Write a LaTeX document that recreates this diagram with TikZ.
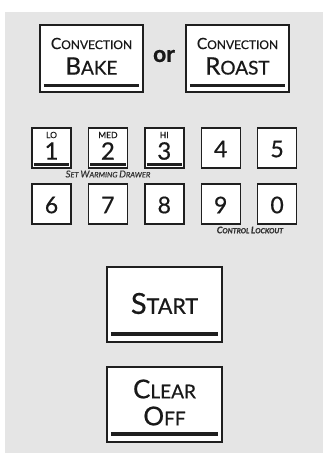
\documentclass[tikz,border=0pt]{standalone}
\usepackage{fontspec}
\setmainfont{Lato}[FakeBold=0.6]
\newcommand\fsz[1]{\fontsize{#1}{#1}\selectfont}
\begin{document}
\begin{tikzpicture}[x=1pt,y=-1pt,
  keybox/.style={draw=black!88,line width=1.4pt,fill=white,inner sep=0pt,minimum width=#1},
  bigkey/.style={keybox=103pt,minimum height=67pt},
  midkey/.style={keybox=115pt,minimum height=75pt},
  numkey/.style={keybox=39pt,minimum height=40pt},
  bar/.style={line width=#1,draw=black!88},
  txt/.style={inner sep=0pt,text=black!90},
  note/.style={inner sep=0pt,text=black!80,font=\itshape}]
\useasboundingbox (0,0) rectangle (323,455);
\fill[black!10] (5,12) rectangle (323,453);
% top keys
\node[bigkey] (bake) at (91.5,58.5) {};
\node[bigkey] (roast) at (237.5,58.5) {};
\node[txt,font=\bfseries\fsz{23}] (or) at (164,56) {or};
\foreach \k in {bake,roast}{
  \draw[bar=3pt] ([shift={(4.5,-7)}]\k.south west) -- ([shift={(-4.5,-7)}]\k.south east);}
\node[txt] (bakeA) at ([yshift=15]bake.center) {{\fsz{15.5}C}{\fsz{12}ONVECTION}};
\node[txt] (bakeB) at ([yshift=-7.5]bake.center) {{\fsz{24}B}{\fsz{19}AKE}};
\node[txt] (roastA) at ([yshift=15]roast.center) {{\fsz{15.5}C}{\fsz{12}ONVECTION}};
\node[txt] (roastB) at ([yshift=-7.5]roast.center) {{\fsz{24}R}{\fsz{19}OAST}};
% number keys
\foreach \d [count=\i from 0] in {1,2,3,4,5}{
  \node[numkey] (n\d) at (51.5+56.4*\i,148) {};}
\foreach \d [count=\i from 0] in {6,7,8,9,0}{
  \node[numkey] (n\d) at (51.5+56.4*\i,204) {};}
\foreach \d/\l in {1/LO,2/MED,3/HI}{
  \draw[bar=2.5pt] ([shift={(2.5,-4)}]n\d.south west) -- ([shift={(-2.5,-4)}]n\d.south east);
  \node[txt,font=\fsz{8.5}] (l\d) at ([yshift=13]n\d.center) {\l};
  \node[txt,font=\fsz{24}] (d\d) at ([yshift=-3]n\d.center) {\d};}
\foreach \d in {4,5,6,7,8,9,0}{
  \node[txt,font=\fsz{23}] (d\d) at ([yshift=-1]n\d.center) {\d};}
\node[note] (warm) at (108,174) {{\fsz{9.5}S}{\fsz{7.5}ET }{\fsz{9.5}W}{\fsz{7.5}ARMING }{\fsz{9.5}D}{\fsz{7.5}RAWER}};
\node[note,font=\bfseries\itshape] (lock) at (250,230) {{\fsz{9}C}{\fsz{7}ONTROL }{\fsz{9}L}{\fsz{7}OCKOUT}};
% start / clear
\node[midkey] (start) at (164.5,304.5) {};
\node[midkey] (clear) at (164.5,404.5) {};
\foreach \k in {start,clear}{
  \draw[bar=3.5pt] ([shift={(4.5,-8.5)}]\k.south west) -- ([shift={(-4.5,-8.5)}]\k.south east);}
\node[txt] (startT) at ([yshift=1]start.center) {{\fsz{29}S}{\fsz{21.5}TART}};
\node[txt] (clearA) at ([yshift=15.5]clear.center) {{\fsz{26}C}{\fsz{19}LEAR}};
\node[txt] (clearB) at ([yshift=-11.5]clear.center) {{\fsz{26}O}{\fsz{19}FF}};
\end{tikzpicture}
\end{document}
